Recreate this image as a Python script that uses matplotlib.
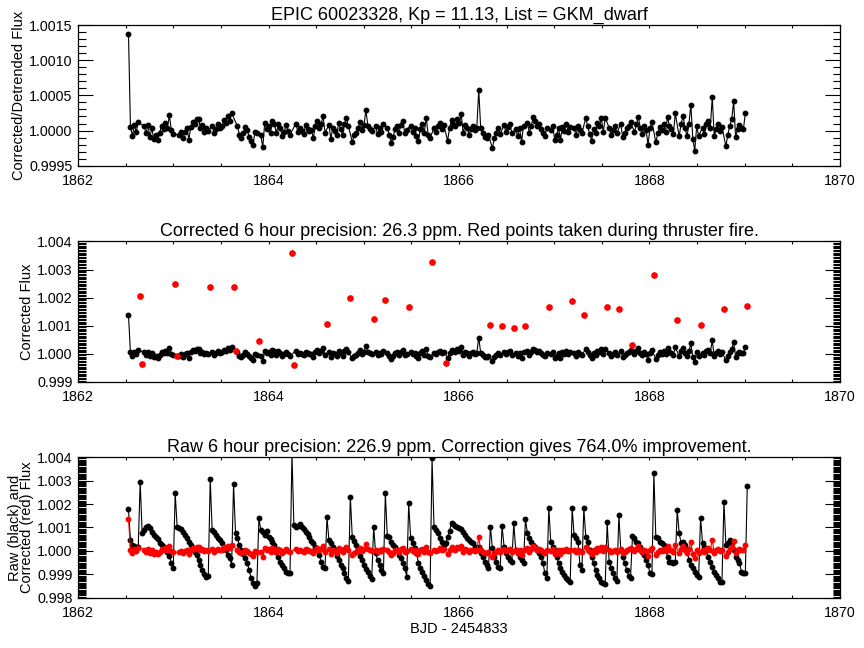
"""Recreate the K2 EPIC 60023328 light-curve diagnostic figure."""

import matplotlib
matplotlib.use("Agg")
import matplotlib.pyplot as plt  # noqa: E402
from matplotlib.ticker import FormatStrFormatter, MultipleLocator  # noqa: E402
import numpy as np  # noqa: E402

plt.rcParams["font.family"] = ["Liberation Sans", "DejaVu Sans"]

T0 = 1862.53          # BJD - 2454833 of the first long cadence
CADENCE_DAYS = 0.02043

# detrended flux, ppm from 1; None = cadence taken during thruster fire
DETRENDED_PPM = [
    1373, 56, -75, 75, -19, 121, None, None, 60, -40,
    80, -90, 30, -120, -60, -140, -30, 70, 20, 110,
    40, 215, 10, -50, None, None, -60, -20, -110, -20,
    40, -130, 50, 120, 90, 170, 160, 40, 80, -20,
    30, -10, None, 70, -40, 20, 90, 30, 60, 150,
    110, 200, 130, 250, None, None, 60, -60, -110, -30,
    50, 10, -90, -150, -205, -20, -40, None, -60, -240,
    110, 20, 70, -30, 140, 90, -40, 100, 30, -80,
    -20, 80, -10, -60, None, None, 100, -20, 40, 0,
    -50, 80, 20, -10, 10, -110, 60, 140, 30, 90,
    205, -30, None, 80, -120, 40, 0, -70, 110, 20,
    -60, 90, 177, 60, None, -159, -70, -40, 30, 120,
    10, 80, 290, 70, 20, -10, None, 60, -50, 40,
    -20, 90, None, 30, -60, -177, -90, 20, 60, -30,
    80, 135, -40, 10, None, 70, -20, 40, -80, -145,
    20, 90, -30, 182, -60, -107, None, 40, -20, 60,
    110, 20, 80, None, -145, 40, 150, 90, 60, 159,
    110, 229, -37, 80, 40, -60, 20, 60, 10, 40,
    579, 30, -40, -98, -110, -60, None, -252, -110, -30,
    40, -50, None, 75, -20, 50, 100, -40, None, 20,
    -80, 30, -159, 60, None, 110, -30, 70, 191, 130,
    60, 90, 20, -40, -75, 30, None, 10, 70, -131,
    -60, 40, -131, 50, 0, 90, -20, 50, None, 30,
    -60, 60, 10, -40, None, 182, 60, -50, -145, 20,
    -40, 110, 60, 173, -20, 182, None, 40, -65, 10,
    60, -30, None, 90, -98, -40, 30, 70, 120, None,
    -20, 90, 196, 40, -51, 60, 10, -205, 40, 121,
    None, -168, -40, 50, 10, 90, -20, 196, 60, 20,
    -51, 243, None, -84, 100, 205, 40, -84, 90, 369,
    -120, -285, 60, -75, None, 42, -50, 89, 130, 40,
    476, -75, 20, 90, 0, 50, None, -224, -60, 70,
    159, 416, -98, 20, 75, 40, 19, 243, None,
]

# corrected flux of the thruster-fire cadences, ppm from 1 (in time order)
THRUSTER_PPM = [
    2060, -350, 2470, -80, 2370, 2370, 100, 450, 3600, -390,
    1050, 1980, 1240, 1930, 1650, 3250, -320, 1010, 1000, 930,
    1000, 1650, 1870, 1390, 1680, 1590, 320, 2790, 1210, 1020,
    1600, 1710,
]

# raw flux, ppm from 1, every cadence
RAW_PPM = [
    1774, 468, 255, 213, 183, 157, 2949, 779, 894, 1008,
    1064, 966, 821, 681, 583, 498, 353, 255, 183, 115,
    -30, -213, -523, -736, 2455, 1034, 966, 923, 821, 681,
    540, 396, 255, 115, -30, -170, -383, -596, -808, -979,
    -1094, -1064, 3051, 894, 821, 681, 540, 468, 328, 183,
    43, -170, -311, -596, 2851, 753, 540, 255, 43, -128,
    -311, -523, -808, -1162, -1374, -1489, -1374, 1391, 894, 821,
    681, 851, 608, 498, 396, 255, -30, -243, -455, -596,
    -736, -881, -949, -936, 4150, 1106, 1034, 1064, 1149, 1034,
    923, 821, 723, 583, 438, 328, 183, 43, -170, -455,
    -668, -723, 1434, 468, 328, 183, 43, -213, -383, -596,
    -736, -949, -1162, -1264, 2310, 583, 438, 255, 72, -213,
    -383, -596, -766, -894, -1064, -1191, 1034, -85, -383, -596,
    -808, -936, 2455, 638, 583, 396, 255, 183, 43, -170,
    -311, -523, -736, -1094, 2030, 540, 340, 128, -85, -511,
    -723, -894, -1064, -1234, -1404, -1489, 3944, 1034, 894, 753,
    553, 383, 255, 340, 596, 851, 1204, 1149, 1064, 1021,
    979, 923, 821, 681, 540, 468, 396, 328, 183, 115,
    170, -98, -243, -455, -596, -736, 1034, 115, -243, -455,
    -668, -736, 1064, 183, -98, -243, -383, -455, 1179, 43,
    -98, -243, -383, -523, 1349, 753, 540, 396, 255, 183,
    43, -98, -243, -523, -949, -1162, 1842, 396, 183, 43,
    -243, -523, -736, -881, -1021, -1162, -1234, -1306, 1817, 681,
    540, 396, -596, -808, 1817, 608, 396, 43, -243, -523,
    -808, -1021, -1162, -1306, -1374, -1404, 1221, -455, -736, -949,
    -1162, -1264, 1532, 43, -243, -523, -808, -1064, -1149, 638,
    540, 396, 328, 183, -30, -170, -383, -596, -949, -979,
    3306, 583, 540, 396, 328, 255, 43, -243, -455, -455,
    -511, -468, 1745, 753, 328, 396, 255, 43, -383, -596,
    -723, -894, -1021, -1094, 1417, 328, 183, 43, -243, -455,
    -668, -881, -1021, -1162, -1306, -1306, 2098, 255, 328, 468,
    328, 43, -243, -383, -523, -881, -949, -949, 2779,
]

TITLES = [
    "EPIC 60023328, Kp = 11.13, List = GKM_dwarf",
    "Corrected 6 hour precision: 26.3 ppm. Red points taken during thruster fire.",
    "Raw 6 hour precision: 226.9 ppm. Correction gives 764.0% improvement.",
]
YLABELS = ["Corrected/Detrended Flux", "Corrected Flux", "Raw (black) and\nCorrected (red) Flux"]
XLABEL = "BJD - 2454833"


def to_flux(ppm):
    return 1.0 + np.asarray(ppm, dtype=float) * 1e-6


def style_axis(ax, ylim, ymajor, yminor, yfmt):
    ax.set_xlim(1862, 1870)
    ax.set_ylim(*ylim)
    ax.xaxis.set_major_locator(MultipleLocator(2))
    ax.xaxis.set_minor_locator(MultipleLocator(0.5))
    ax.yaxis.set_major_locator(MultipleLocator(ymajor))
    ax.yaxis.set_minor_locator(MultipleLocator(yminor))
    ax.yaxis.set_major_formatter(FormatStrFormatter(yfmt))
    ax.xaxis.set_major_formatter(FormatStrFormatter("%d"))
    ax.tick_params(which="both", direction="in", top=True, right=True,
                   labelsize=10.3, width=0.8, color="black")
    ax.tick_params(axis="x", which="major", length=2.4, pad=6)
    ax.tick_params(axis="x", which="minor", length=2.0)
    ax.tick_params(axis="y", which="major", length=10.8, pad=4)
    ax.tick_params(axis="y", which="minor", length=5.4)
    for spine in ax.spines.values():
        spine.set_linewidth(0.9)


time = T0 + CADENCE_DAYS * np.arange(len(RAW_PPM))
detrended = to_flux([np.nan if v is None else v for v in DETRENDED_PPM])
thruster = np.isnan(detrended)
good = ~thruster
raw = to_flux(RAW_PPM)
thruster_flux = to_flux(THRUSTER_PPM)

fig = plt.figure(figsize=(8.64, 6.48), dpi=100)
left, width, height = 0.0903, 0.8819, 0.217
ax1 = fig.add_axes([left, 0.7443, width, height])
ax2 = fig.add_axes([left, 0.4105, width, height])
ax3 = fig.add_axes([left, 0.0775, width, height])

line_kw = dict(color="black", lw=0.8, marker="o", ms=3.2, mec="black", mfc="black")

ax1.plot(time[good], detrended[good], **line_kw)
style_axis(ax1, (0.9995, 1.0015), 0.0005, 0.0001, "%.4f")

ax2.plot(time[good], detrended[good], **line_kw)
ax2.plot(time[thruster], thruster_flux, ls="none", marker="o", ms=3.8,
         mec="red", mfc="red", color="red")
style_axis(ax2, (0.999, 1.004), 0.001, 0.00005, "%.3f")

ax3.plot(time, raw, **line_kw)
ax3.plot(time[good], detrended[good], color="red", lw=0.8, marker="o", ms=3.2,
         mec="red", mfc="red")
style_axis(ax3, (0.998, 1.004), 0.001, 0.00005, "%.3f")
ax3.set_xlabel(XLABEL, fontsize=10.5, labelpad=1)

for ax, title, ylabel in zip((ax1, ax2, ax3), TITLES, YLABELS):
    ax.set_title(title, fontsize=13, pad=4)
    ax.set_ylabel(ylabel, fontsize=10.5, labelpad=2, linespacing=0.85)

fig.savefig("out.png", dpi=100)
